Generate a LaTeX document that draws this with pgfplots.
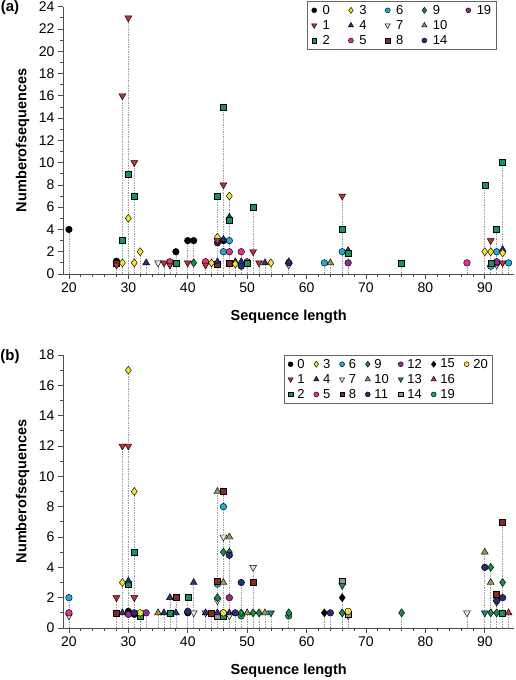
\documentclass[border=0pt]{standalone}
\usepackage{fontspec}
\setmainfont{Liberation Sans}
\usepackage{pgfplots}
\pgfplotsset{compat=1.18}
\usepackage{pgfplotstable}
\usetikzlibrary{plotmarks}

\definecolor{c1}{RGB}{190,50,50}
\definecolor{c2}{RGB}{20,150,90}
\definecolor{c3}{RGB}{245,230,40}
\definecolor{c4}{RGB}{40,50,130}
\definecolor{c5}{RGB}{225,50,140}
\definecolor{c6}{RGB}{30,170,220}
\definecolor{c7}{RGB}{228,228,228}
\definecolor{c8}{RGB}{140,40,40}
\definecolor{c9}{RGB}{25,140,70}
\definecolor{c10}{RGB}{150,150,90}
\definecolor{c11}{RGB}{40,45,120}
\definecolor{c12}{RGB}{145,45,145}
\definecolor{c13}{RGB}{30,130,130}
\definecolor{c14}{RGB}{150,150,150}
\definecolor{c16}{RGB}{215,50,50}
\definecolor{c19}{RGB}{30,160,90}
\definecolor{c20}{RGB}{245,225,60}

\def\legimgw{9.8pt}
\pgfplotsset{
 stem/.style={ycomb, no markers, forget plot, draw=gray!75, line width=0.7pt, dash pattern=on 0.7pt off 1pt},
 pt/.style={only marks, draw=black, line width=0.45pt,
   legend image code/.code={%
     \pgfpathmoveto{\pgfpoint{0pt}{0pt}}\pgfpathlineto{\pgfpoint{\legimgw}{0pt}}\pgfusepath{}%
     \pgfmathsetlength{\pgfplotmarksize}{0.75*\pgfplotmarksize}%
     \draw plot coordinates {(3.4pt,0pt)};}},
 s0/.style={mark=*, fill=black, mark size=3.3pt},
 s1/.style={mark=triangle*, fill=c1, mark size=4pt, mark options={rotate=180}},
 s2/.style={mark=square*, fill=c2, mark size=3pt},
 s3/.style={mark=diamond*, fill=c3, mark size=4pt},
 s4/.style={mark=triangle*, fill=c4, mark size=4pt},
 s5/.style={mark=*, fill=c5, mark size=3.3pt},
 s6/.style={mark=*, fill=c6, mark size=3.3pt},
 s7/.style={mark=triangle*, fill=c7, mark size=4pt, mark options={rotate=180}},
 s8/.style={mark=square*, fill=c8, mark size=3pt},
 s9/.style={mark=diamond*, fill=c9, mark size=4pt},
 s10/.style={mark=triangle*, fill=c10, mark size=4pt},
 s11/.style={mark=*, fill=c11, mark size=3.3pt},
 s12/.style={mark=*, fill=c12, mark size=3.3pt},
 s13/.style={mark=triangle*, fill=c13, mark size=4pt, mark options={rotate=180}},
 s14/.style={mark=square*, fill=c14, mark size=3pt},
 s15/.style={mark=diamond*, fill=black, mark size=4pt},
 s16/.style={mark=triangle*, fill=c16, mark size=4pt},
 s19/.style={mark=*, fill=c19, mark size=3.3pt},
 s20/.style={mark=*, fill=c20, mark size=3.3pt},
 common/.style={scale only axis, width=451.5pt, xmin=19, xmax=95, xtick={20,30,...,90},
   minor x tick num=4, minor y tick num=1,
   axis x line*=bottom, axis y line*=left, tick align=outside,
   major tick length=5pt, minor tick length=3pt, clip=false,
   /pgf/number format/assume math mode=true,
   tick label style={font=\fontsize{14}{14}\selectfont},
   axis line style={line width=0.8pt, black!70},
   every tick/.style={line width=0.8pt, black!70},
   xlabel={Sequence length}, ylabel={Numberofsequences},
   every axis x label/.style={at={(axis description cs:0.5,0)}, anchor=center, yshift=-42.7pt,
     font=\bfseries\fontsize{14.5}{15}\selectfont},
   every axis y label/.style={at={(axis description cs:-0.0893,0.5)}, anchor=center, rotate=90,
     font=\bfseries\fontsize{14.5}{15}\selectfont},
   legend cell align=left,
   legend style={draw=black!60, line width=0.9pt, font=\fontsize{13}{13}\selectfont,
     inner xsep=3pt, inner ysep=1.5pt, row sep=0.5pt},
 },
}

% ---------------- panel (a) data ----------------
\pgfplotstableread{
x y
20 4
28 1.15
38 2
40 3
41 3
46 3
}\TAzero
\pgfplotstableread{
x y
28 0.8
29 16
30 23
31 10
36 1
37 0.8
40 1
43 0.8
45 3
46 8
51 2
52 1
66 7
91 3
93 1
}\TAone
\pgfplotstableread{
x y
29 3
30 9
31 7
38 1
45 7
46 15
47 4.8
50 1
51 6
66 4
67 1.9
76 1
90 8
91 1
92 4
93 10
}\TAtwo
\pgfplotstableread{
x y
29 1
30 5
31 1
32 2
44 1
45 3.3
47 7
48 0.9
54 1
90 2
91 2
93 1.9
}\TAthree
\pgfplotstableread{
x y
33 1
45 1.1
46 3.1
47 5.1
48 1.1
49 1.1
53 1
57 1.1
67 2.1
93 2.2
}\TAfour
\pgfplotstableread{
x y
37 1.1
43 1.1
47 2
49 2
50 1.1
87 1
92 1
}\TAfive
\pgfplotstableread{
x y
46 2
47 3
63 1
66 2
91 0.7
92 2
94 1
}\TAsix
\pgfplotstableread{
x y
35 1
57 0.8
92 0.8
}\TAseven
\pgfplotstableread{
x y
28 1
45 0.9
47 1
}\TAeight
\pgfplotstableread{
x y
41 1
}\TAnine
\pgfplotstableread{
x y
64 1
}\TAten
\pgfplotstableread{
x y
45 2.8
49 0.7
57 1
}\TAfourteen
\pgfplotstableread{
x y
67 1
92 1.1
}\TAnineteen

% ---------------- panel (b) data ----------------
\pgfplotstableread{
x y
30 1.1
31 0.9
40 1
}\TBzero
\pgfplotstableread{
x y
28 2
29 12
30 12
31 2
}\TBone
\pgfplotstableread{
x y
30 2.9
31 5
32 0.8
37 1
40 2
46 0.8
93 1
}\TBtwo
\pgfplotstableread{
x y
29 3
30 17
31 9
}\TBthree
\pgfplotstableread{
x y
29 1
30 3.1
36 1
37 2
38 1
41 3
43 1
45 1
47 1
}\TBfour
\pgfplotstableread{
x y
20 1
}\TBfive
\pgfplotstableread{
x y
20 2
45 2.9
46 8
}\TBsix
\pgfplotstableread{
x y
20 0.8
41 1
43 1
45 1.8
46 6
47 0.8
51 4
67 0.8
87 1
}\TBseven
\pgfplotstableread{
x y
28 1
38 2
44 1
45 3.1
46 9
51 3
92 2.2
93 7
}\TBeight
\pgfplotstableread{
x y
45 2
46 5
47 5
49 1
51 1
52 1
57 1
66 1
76 1
91 4
91 1
92 1
93 3
}\TBnine
\pgfplotstableread{
x y
35 1
45 9
46 3
47 6
50 1
53 1
90 5
91 3
}\TBten
\pgfplotstableread{
x y
31 1
40 1.1
47 4.8
48 1
49 3
64 1
90 4
92 1.8
93 2
}\TBeleven
\pgfplotstableread{
x y
30 0.9
33 1
47 2
}\TBtwelve
\pgfplotstableread{
x y
54 1
66 2.8
90 1
92 1.7
}\TBthirteen
\pgfplotstableread{
x y
45 0.8
66 3.1
67 0.9
}\TBfourteen
\pgfplotstableread{
x y
63 1
66 2
}\TBfifteen
\pgfplotstableread{
x y
92 2.1
94 1
}\TBsixteen
\pgfplotstableread{
x y
46 1
49 0.8
57 0.8
}\TBnineteen
\pgfplotstableread{
x y
32 1
46 1
67 1.1
}\TBtwenty

\begin{document}
\begin{tikzpicture}
\useasboundingbox (0,0) rectangle (516pt,-680pt);
\node[font=\bfseries\fontsize{15}{15}\selectfont] at (10pt,-8pt) {(a)};
\node[font=\bfseries\fontsize{15}{15}\selectfont] at (10pt,-357pt) {(b)};

% ================= (a) =================
\gdef\legimgw{9.8pt}
\begin{axis}[common, at={(63pt,-274pt)}, anchor=south west, height=267.3pt,
  ymin=0, ymax=24, ytick={0,2,...,24},
  legend columns=5, legend style={at={(0.9605,1.021)}, anchor=north east,
    /tikz/every even column/.append style={column sep=15.7pt}}]
\addplot[stem] table {\TAzero};
\addplot[stem] table {\TAone};
\addplot[stem] table {\TAtwo};
\addplot[stem] table {\TAthree};
\addplot[stem] table {\TAfour};
\addplot[stem] table {\TAfive};
\addplot[stem] table {\TAsix};
\addplot[stem] table {\TAseven};
\addplot[stem] table {\TAeight};
\addplot[stem] table {\TAnine};
\addplot[stem] table {\TAten};
\addplot[stem] table {\TAfourteen};
\addplot[stem] table {\TAnineteen};
\addplot[pt,s0,forget plot] table {\TAzero};
\addplot[pt,s7,forget plot] table {\TAseven};
\addplot[pt,s10,forget plot] table {\TAten};
\addplot[pt,s9,forget plot] table {\TAnine};
\addplot[pt,s8,forget plot] table {\TAeight};
\addplot[pt,s11,forget plot] table {\TAfourteen};
\addplot[pt,s5,forget plot] table {\TAfive};
\addplot[pt,s12,forget plot] table {\TAnineteen};
\addplot[pt,s6,forget plot] table {\TAsix};
\addplot[pt,s4,forget plot] table {\TAfour};
\addplot[pt,s3,forget plot] table {\TAthree};
\addplot[pt,s2,forget plot] table {\TAtwo};
\addplot[pt,s1,forget plot] table {\TAone};
\addlegendimage{pt,s0}\addlegendentry{0}
\addlegendimage{pt,s3}\addlegendentry{3}
\addlegendimage{pt,s6}\addlegendentry{6}
\addlegendimage{pt,s9}\addlegendentry{9}
\addlegendimage{pt,s12}\addlegendentry{19}
\addlegendimage{pt,s1}\addlegendentry{1}
\addlegendimage{pt,s4}\addlegendentry{4}
\addlegendimage{pt,s7}\addlegendentry{7}
\addlegendimage{pt,s10}\addlegendentry{10}
\addlegendimage{empty legend}\addlegendentry{}
\addlegendimage{pt,s2}\addlegendentry{2}
\addlegendimage{pt,s5}\addlegendentry{5}
\addlegendimage{pt,s8}\addlegendentry{8}
\addlegendimage{pt,s11}\addlegendentry{14}
\end{axis}

% ================= (b) =================
\gdef\legimgw{8.1pt}
\begin{axis}[common, at={(63pt,-628pt)}, anchor=south west, height=273pt,
  ymin=0, ymax=18, ytick={0,2,...,18},
  legend columns=7, legend style={at={(0.953,1.0)}, anchor=north east,
    /tikz/every even column/.append style={column sep=6.4pt}}]
\addplot[stem] table {\TBzero};
\addplot[stem] table {\TBone};
\addplot[stem] table {\TBtwo};
\addplot[stem] table {\TBthree};
\addplot[stem] table {\TBfour};
\addplot[stem] table {\TBfive};
\addplot[stem] table {\TBsix};
\addplot[stem] table {\TBseven};
\addplot[stem] table {\TBeight};
\addplot[stem] table {\TBnine};
\addplot[stem] table {\TBten};
\addplot[stem] table {\TBeleven};
\addplot[stem] table {\TBtwelve};
\addplot[stem] table {\TBthirteen};
\addplot[stem] table {\TBfourteen};
\addplot[stem] table {\TBfifteen};
\addplot[stem] table {\TBsixteen};
\addplot[stem] table {\TBnineteen};
\addplot[stem] table {\TBtwenty};
\addplot[pt,s7,forget plot] table {\TBseven};
\addplot[pt,s14,forget plot] table {\TBfourteen};
\addplot[pt,s13,forget plot] table {\TBthirteen};
\addplot[pt,s19,forget plot] table {\TBnineteen};
\addplot[pt,s2,forget plot] table {\TBtwo};
\addplot[pt,s0,forget plot] table {\TBzero};
\addplot[pt,s12,forget plot] table {\TBtwelve};
\addplot[pt,s5,forget plot] table {\TBfive};
\addplot[pt,s20,forget plot] table {\TBtwenty};
\addplot[pt,s15,forget plot] table {\TBfifteen};
\addplot[pt,s16,forget plot] table {\TBsixteen};
\addplot[pt,s9,forget plot] table {\TBnine};
\addplot[pt,s11,forget plot] table {\TBeleven};
\addplot[pt,s10,forget plot] table {\TBten};
\addplot[pt,s6,forget plot] table {\TBsix};
\addplot[pt,s4,forget plot] table {\TBfour};
\addplot[pt,s8,forget plot] table {\TBeight};
\addplot[pt,s1,forget plot] table {\TBone};
\addplot[pt,s3,forget plot] table {\TBthree};
\addlegendimage{pt,s0}\addlegendentry{0}
\addlegendimage{pt,s3}\addlegendentry{3}
\addlegendimage{pt,s6}\addlegendentry{6}
\addlegendimage{pt,s9}\addlegendentry{9}
\addlegendimage{pt,s12}\addlegendentry{12}
\addlegendimage{pt,s15}\addlegendentry{15}
\addlegendimage{pt,s20}\addlegendentry{20}
\addlegendimage{pt,s1}\addlegendentry{1}
\addlegendimage{pt,s4}\addlegendentry{4}
\addlegendimage{pt,s7}\addlegendentry{7}
\addlegendimage{pt,s10}\addlegendentry{10}
\addlegendimage{pt,s13}\addlegendentry{13}
\addlegendimage{pt,s16}\addlegendentry{16}
\addlegendimage{empty legend}\addlegendentry{}
\addlegendimage{pt,s2}\addlegendentry{2}
\addlegendimage{pt,s5}\addlegendentry{5}
\addlegendimage{pt,s8}\addlegendentry{8}
\addlegendimage{pt,s11}\addlegendentry{11}
\addlegendimage{pt,s14}\addlegendentry{14}
\addlegendimage{pt,s19}\addlegendentry{19}
\end{axis}
\end{tikzpicture}
\end{document}
